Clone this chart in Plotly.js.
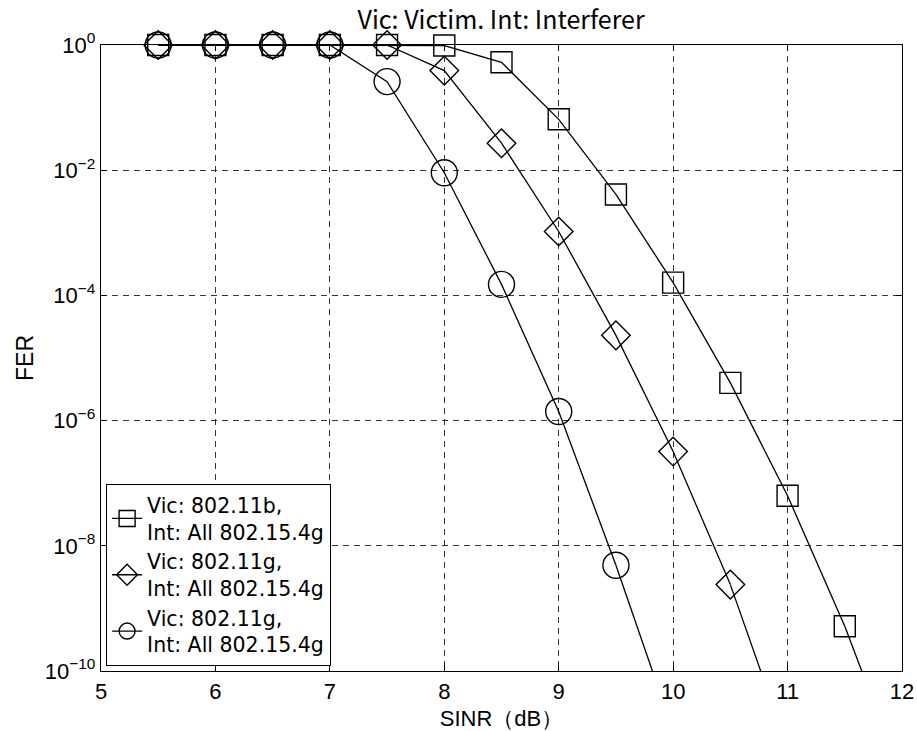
<!DOCTYPE html>
<html>
<head>
<meta charset="utf-8">
<script src="https://cdn.plot.ly/plotly-3.0.1.min.js"></script>
<style>html,body{margin:0;padding:0;background:#fff;}#chart{width:917px;height:731px;}</style>
</head>
<body>
<div id="chart"></div>
<script>
// SINR (dB) values and frame error rates (visible markers)
var sinrB = [5.5, 6, 6.5, 7, 7.5, 8, 8.5, 9, 9.5, 10, 10.5, 11, 11.5];
var ferB  = [1, 1, 1, 1, 1, 0.98, 0.53, 0.065, 4.1e-3, 1.6e-4, 4.0e-6, 6.3e-8, 5.2e-10];
var sinrG = [5.5, 6, 6.5, 7, 7.5, 8, 8.5, 9, 9.5, 10, 10.5];
var ferG  = [1, 1, 1, 1, 1, 0.39, 0.027, 1.05e-3, 2.3e-5, 3.2e-7, 2.4e-9];
var sinrG2 = [5.5, 6, 6.5, 7, 7.5, 8, 8.5, 9, 9.5];
var ferG2  = [1, 1, 1, 1, 0.26, 9.1e-3, 1.5e-4, 1.4e-6, 4.9e-9];
// next point of each curve, below the visible range (only its line segment shows)
var tailB = {x: [11.5, 12], y: [5.2e-10, 2e-12]};
var tailG = {x: [10.5, 11], y: [2.4e-9, 6e-12]};
var tailG2 = {x: [9.5, 10], y: [4.9e-9, 1.1e-11]};

var names = ["Vic: 802.11b,<br>Int: All 802.15.4g", "Vic: 802.11g,<br>Int: All 802.15.4g", "Vic: 802.11g,<br>Int: All 802.15.4g"];
var xTicks = [5, 6, 7, 8, 9, 10, 11, 12];
var yTickVals = [1e-10, 1e-8, 1e-6, 1e-4, 1e-2, 1];
var yTickText = ["10<sup>\u221210</sup>", "10<sup>\u22128</sup>", "10<sup>\u22126</sup>", "10<sup>\u22124</sup>", "10<sup>\u22122</sup>", "10<sup>0</sup>"];

var jp = "Noto Sans CJK JP";
var ar = "Liberation Sans, Arial, sans-serif";
var dj = "DejaVu Sans";

function tr(x, y, name, sym, size) {
  return {
    x: x, y: y, name: name, type: "scatter", mode: "lines+markers", cliponaxis: false,
    line: {color: "#000", width: 1.3},
    marker: {symbol: sym, size: size, color: "#000", line: {color: "#000", width: 1.4}}
  };
}
function tail(t) {
  return {x: t.x, y: t.y, type: "scatter", mode: "lines", showlegend: false, cliponaxis: true,
          line: {color: "#000", width: 1.3}, hoverinfo: "skip"};
}

var data = [
  tail(tailB), tail(tailG), tail(tailG2),
  tr(sinrB, ferB, names[0], "square-open", 21),
  tr(sinrG, ferG, names[1], "diamond-open", 22),
  tr(sinrG2, ferG2, names[2], "circle-open", 26)
];

var axCommon = {
  showline: true, linecolor: "#000", linewidth: 1.3, mirror: "ticks",
  ticks: "inside", ticklen: 6, tickcolor: "#000",
  showgrid: true, gridcolor: "#000", gridwidth: 0.8, griddash: "6px,5px",
  zeroline: false, tickfont: {family: ar, size: 22, color: "#000"}
};

var layout = {
  width: 917, height: 731,
  margin: {l: 101, r: 15, t: 45, b: 60},
  paper_bgcolor: "#fff", plot_bgcolor: "#fff",
  title: {text: "Vic: Victim. Int: Interferer", font: {family: jp, size: 25, color: "#000"},
          x: 0.5465, xanchor: "center", yref: "container", y: 1 - 20/731, yanchor: "middle"},
  xaxis: Object.assign({}, axCommon, {
    range: [5, 12], tickvals: xTicks, ticktext: xTicks.map(String),
    title: {text: "SINR\uff08dB\uff09", font: {family: ar, size: 22, color: "#000"}, standoff: 8}
  }),
  yaxis: Object.assign({}, axCommon, {
    type: "log", range: [-10, 0], tickvals: yTickVals, ticktext: yTickText,
    title: {text: "FER", font: {family: ar, size: 23, color: "#000"}, standoff: 4}
  }),
  showlegend: true,
  legend: {
    x: 0.006, y: 0.008, xanchor: "left", yanchor: "bottom",
    bgcolor: "#fff", bordercolor: "#000", borderwidth: 1.3,
    font: {family: dj, size: 20.5, color: "#000"}, tracegroupgap: 0
  }
};

Plotly.newPlot("chart", data, layout, {displayModeBar: false, staticPlot: true});
</script>
</body>
</html>
